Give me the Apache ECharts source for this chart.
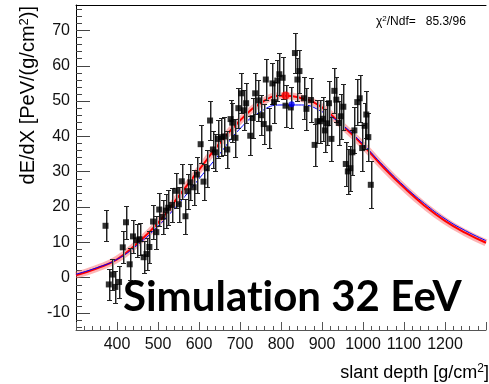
<!DOCTYPE html>
<html>
<head>
<meta charset="utf-8">
<script src="https://cdn.jsdelivr.net/npm/echarts@6.0.0/dist/echarts.min.js"></script>
<style>
  html, body { margin: 0; padding: 0; background: #fff; }
  #chart { width: 489px; height: 384px; }
</style>
</head>
<body>
<div id="chart"></div>
<script>
// Measured longitudinal profile: slant depth [g/cm^2], dE/dX [PeV/(g/cm^2)], error
const depth = [372,380,389,396,405,414,422,431,439,448,455,465,472,479,488,496,503,511,519,525,
  534,544,551,558,567,572,579,587,595,604,611,619,627,634,639,646,654,661,669,677,
  681,689,696,703,709,715,725,731,737,745,752,758,763,771,779,783,791,796,804,811,
  824,834,840,845,856,862,873,882,889,896,902,907,912,917,923,930,935,941,946,952,
  958,963,969,974,979,986,992,998,1004,1008,1013,1019];
const dEdX = [14.7,-1.9,0.9,-2.6,-1.2,8.6,15.7,3.8,11.7,10.6,10.9,5.8,6.7,8.7,15.9,12.9,19.3,17.2,19.0,19.8,
  20.6,24.6,20.8,27.3,17.4,24.5,27.0,25.6,29.2,37.8,27.2,31.0,44.5,36.3,35.5,39.3,39.8,40.0,36.3,44.9,
  43.9,39.6,48.0,52.2,47.4,49.4,40.2,45.2,52.2,50.2,46.0,43.5,56.1,42.3,55.0,49.7,55.8,57.6,56.6,48.7,
  48.2,63.6,56.1,58.5,50.8,47.8,50.3,37.6,44.3,44.3,45.0,41.7,43.7,49.4,39.3,52.9,50.4,43.8,45.7,48.4,
  32.2,30.1,31.0,35.5,41.7,49.7,50.8,36.7,43.0,46.2,39.8,26.3];
const dEdXErr = [4.4,4.5,4.4,4.5,4.5,4.5,4.6,4.5,4.6,4.6,4.6,4.6,4.6,4.6,4.8,4.7,4.8,4.8,4.8,4.9,
  4.9,5.0,4.9,5.0,4.9,5.0,5.1,5.0,5.1,5.3,5.1,5.2,5.4,5.3,5.3,5.4,5.4,5.4,5.3,5.5,
  5.5,5.4,5.6,5.7,5.6,5.7,5.5,5.6,5.8,5.8,5.7,5.7,5.9,5.7,5.9,5.8,5.9,6.0,6.0,5.9,
  5.9,5.7,6.1,6.1,6.0,6.0,6.1,5.9,6.1,6.1,6.2,6.1,6.2,6.3,6.2,6.4,6.4,6.3,6.4,6.5,
  6.3,6.3,6.4,6.4,6.5,6.6,6.7,6.5,6.6,6.7,6.7,6.6];

// Gaisser-Hillas fit (red, drawn inside its uncertainty band) and reference profile (blue)
const curveDepth = [300,350,400,450,500,550,600,650,700,750,800,850,900,950,1000,1050,1100,1150,1200,1250,1300];
const fitRed     = [0.7,2.6,5.2,9.8,15.5,23.0,30.5,38.0,44.5,49.4,51.5,50.8,48.2,43.0,37.5,31.2,25.5,20.4,16.1,12.7,9.9];
const fitBlue    = [1.0,2.8,5.2,9.3,14.6,20.9,28.0,35.0,42.2,47.0,48.9,48.9,47.0,43.2,37.8,31.7,26.0,21.0,16.7,13.3,10.5];
const redMax  = [811, 51.6];
const blueMax = [826, 49.1];

const yTicks = [-10,0,10,20,30,40,50,60,70];
const yMinorTicks = [];
for (let v = -14; v <= 76; v += 2) if (v % 10 !== 0) yMinorTicks.push(v);

const chiText = '85.3/96';
// zero-width non-joiner keeps "t" and "i" as separate glyphs
const caption = 'Simulat\u200Cion 32 EeV';

const font = '"Liberation Sans", Arial, sans-serif';
const chart = echarts.init(document.getElementById('chart'), null, { renderer: 'canvas' });

const points = depth.map((d, i) => [d, dEdX[i]]);
const errs = depth.map((d, i) => [d, dEdX[i], dEdXErr[i]]);
const redLine = curveDepth.map((d, i) => [d, fitRed[i]]);
const blueLine = curveDepth.map((d, i) => [d, fitBlue[i]]);

const yRange = { min: -14.8, max: 77.2 };

chart.setOption({
  animation: false,
  backgroundColor: '#ffffff',
  grid: { left: 76, top: 5, width: 415, height: 325, containLabel: false },
  xAxis: [
    {
      type: 'value', min: 300, max: 1300, interval: 100,
      position: 'bottom',
      axisLine: { show: true, onZero: false, lineStyle: { color: '#555', width: 1 } },
      axisTick: { show: true, inside: true, length: 8, lineStyle: { color: '#555' } },
      minorTick: { show: true, splitNumber: 5, length: 4, lineStyle: { color: '#555' } },
      axisLabel: {
        show: true, margin: 7, fontFamily: font, fontSize: 16, color: '#111',
        formatter: v => (v === 300 || v === 1300) ? '' : String(v)
      },
      splitLine: { show: false }
    },
    {
      type: 'value', min: 300, max: 1300, position: 'top',
      axisLine: { show: true, onZero: false, lineStyle: { color: '#000', width: 1 } },
      axisTick: { show: false }, axisLabel: { show: false }, splitLine: { show: false }
    }
  ],
  yAxis: [
    {
      type: 'value', min: yRange.min, max: yRange.max, position: 'left',
      axisLine: { show: true, onZero: false, lineStyle: { color: '#000', width: 1 } },
      axisTick: { show: true, inside: true, length: 14, customValues: yTicks, lineStyle: { color: '#444' } },
      axisLabel: { show: true, margin: 6, customValues: yTicks, fontFamily: font, fontSize: 16, color: '#111' },
      splitLine: { show: false }
    },
    {
      type: 'value', min: yRange.min, max: yRange.max, position: 'left',
      axisLine: { show: false },
      axisTick: { show: true, inside: true, length: 6, customValues: yMinorTicks, lineStyle: { color: '#444' } },
      axisLabel: { show: false }, splitLine: { show: false }
    }
  ],
  series: [
    {
      name: 'fitBand', type: 'line', data: redLine, smooth: true,
      showSymbol: false, symbol: 'none', silent: true,
      lineStyle: { color: 'rgba(250,120,120,0.55)', width: 7, cap: 'butt' }, z: 1
    },
    {
      name: 'fit', type: 'line', data: redLine, smooth: true,
      showSymbol: false, symbol: 'none', lineStyle: { color: '#ff0000', width: 2 }, z: 2
    },
    {
      name: 'reference', type: 'line', data: blueLine, smooth: true,
      showSymbol: false, symbol: 'none', lineStyle: { color: '#0000ff', width: 1 }, z: 3
    },
    {
      name: 'errors', type: 'custom', data: errs, clip: true, z: 4,
      renderItem: (params, api) => {
        const x = api.value(0), y = api.value(1), e = api.value(2);
        const top = api.coord([x, y + e]);
        const bot = api.coord([x, y - e]);
        const px = Math.round(top[0]) + 0.5;
        const ty = Math.round(top[1]) + 0.5, by = Math.round(bot[1]) + 0.5;
        return {
          type: 'group',
          children: [
            { type: 'line', shape: { x1: px + 1, y1: ty, x2: px + 1, y2: by }, style: { stroke: '#9a9a9a', lineWidth: 1 } },
            { type: 'line', shape: { x1: px, y1: ty, x2: px, y2: by }, style: { stroke: '#222', lineWidth: 1 } },
            { type: 'line', shape: { x1: px - 2.5, y1: ty, x2: px + 2.5, y2: ty }, style: { stroke: '#222', lineWidth: 1 } },
            { type: 'line', shape: { x1: px - 2.5, y1: by, x2: px + 2.5, y2: by }, style: { stroke: '#222', lineWidth: 1 } }
          ]
        };
      }
    },
    {
      name: 'data', type: 'scatter', data: points, symbol: 'rect', symbolSize: 6,
      itemStyle: { color: '#000' }, z: 5
    },
    {
      name: 'fitMax', type: 'scatter', data: [redMax], symbol: 'circle', symbolSize: 8,
      itemStyle: { color: '#ff0000' }, z: 6
    },
    {
      name: 'refMax', type: 'scatter', data: [blueMax], symbol: 'circle', symbolSize: 6,
      itemStyle: { color: '#0000ff' }, z: 6
    }
  ],
  graphic: [
    {
      type: 'text', x: 376, y: 22, z: 100,
      style: {
        text: '{a|χ}{s|2}{a|/Ndf=   ' + chiText + '}',
        verticalAlign: 'middle',
        rich: {
          a: { fontFamily: font, fontSize: 12, color: '#111' },
          s: { fontFamily: font, fontSize: 8, color: '#111', verticalAlign: 'top', padding: [0, 0, 6, 0] }
        }
      }
    },
    {
      type: 'text', x: 489, y: 373, z: 100,
      style: {
        text: '{a|slant depth [g/cm}{s|2}{a|]}',
        align: 'right', verticalAlign: 'middle',
        rich: {
          a: { fontFamily: font, fontSize: 18, color: '#111' },
          s: { fontFamily: font, fontSize: 12, color: '#111', verticalAlign: 'top', padding: [0, 0, 8, 0] }
        }
      }
    },
    {
      type: 'text', x: 28, y: 6, rotation: Math.PI / 2, z: 100,
      style: {
        text: '{a|dE/dX [PeV/(g/cm}{s|2}{a|)]}',
        align: 'right', verticalAlign: 'middle',
        rich: {
          a: { fontFamily: font, fontSize: 20, color: '#111' },
          s: { fontFamily: font, fontSize: 13, color: '#111', verticalAlign: 'top', padding: [0, 0, 8, 0] }
        }
      }
    },
    {
      type: 'text', x: 123, y: 297, z: 100,
      style: {
        text: caption,
        fontFamily: 'Lato, "Open Sans", sans-serif', fontWeight: 'bold', fontSize: 42,
        fill: '#000', align: 'left', verticalAlign: 'middle'
      }
    }
  ]
});
</script>
</body>
</html>
